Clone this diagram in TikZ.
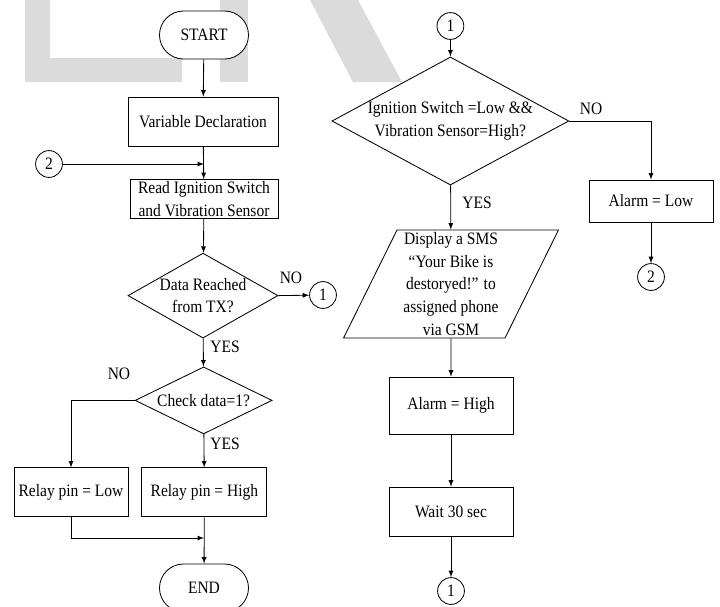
\documentclass[tikz,border=0pt]{standalone}
\usepackage{fontspec}
\setmainfont{Liberation Serif}[FakeStretch=0.89]
\usepackage{tikz}
\usetikzlibrary{shapes}
\usetikzlibrary{arrows}
\tikzstyle{terminal}=[
        rectangle,
        draw,
        rounded corners=0.6cm,
        fill=white,
        minimum width=2.225cm,
        minimum height=1.2cm,
        inner sep=0pt
]
\tikzstyle{process}=[rectangle,draw,fill=white,align=center,inner sep=0pt]
\tikzstyle{decision}=[diamond,draw,fill=white,align=center,inner sep=0pt]
\tikzstyle{inout}=[
        draw,
        trapezium,
        trapezium left angle=65.6,
        trapezium right angle=114.4,
        trapezium stretches=true,
        align=center,
        inner sep=0pt
]
\tikzstyle{connect}=[circle,draw,fill=white,minimum size=0.67cm,inner sep=0pt]
\tikzstyle{tag}=[inner sep=0pt]
\tikzstyle{flow}=[->,>=latex]

\begin{document}
\begin{tikzpicture}[line width=0.6pt,font=\fontsize{12.4}{16.3}\selectfont]
\useasboundingbox (0,0) rectangle (18,-15.175);
\clip (0,0) rectangle (18,-15.175);
%watermark
\fill[black!14] (0.625,0) -- (1.25,0) -- (1.25,-1.45) -- (4.55,-1.45) -- (4.55,-2.05) -- (0.625,-2.05) -- cycle;
\fill[black!14] (5.5,0) rectangle (6.2,-2.05);
\fill[black!14] (7.75,0) -- (8.95,0) -- (10.05,-2.05) -- (8.825,-2.05) -- cycle;

\node[terminal] (start) at (5.1,-0.875) {START};
\node[process,minimum width=3.75cm,minimum height=1.225cm] (decl) at (5.075,-3.04) {Variable Declaration};
\node[connect] (c2a) at (1.225,-4.1) {2};
\node[process,minimum width=3.7cm,minimum height=0.975cm] (read) at (5.1,-4.975) {Read Ignition Switch\\and Vibration Sensor};
\node[decision,minimum width=3.75cm,minimum height=2.125cm,aspect=1.76] (test) at (5.075,-7.39) {Data Reached\\from TX?};
\node[connect] (c1a) at (8.075,-7.375) {1};
\node[decision,minimum width=3.425cm,minimum height=1.675cm,aspect=2.04] (test2) at (5.09,-10.01) {Check data=1?};
\node[process,minimum width=2.85cm,minimum height=1.225cm] (low) at (1.775,-12.31) {Relay pin = Low};
\node[process,minimum width=3.125cm,minimum height=1.225cm] (high) at (5.11,-12.31) {Relay pin = High};
\coordinate (join) at (5.1,-13.45);
\node[terminal] (end) at (5.1,-14.7) {END};

\node[connect] (c1b) at (11.26,-0.65) {1};
\node[decision,minimum width=5.725cm,minimum height=3.1cm,aspect=1.85] (test3) at (11.26,-3.025) {Ignition Switch =Low \&\&\\Vibration Sensor=High?};
\node[process,minimum width=3.1cm,minimum height=1.05cm] (alow) at (16.275,-5.025) {Alarm = Low};
\node[connect] (c2b) at (16.275,-6.925) {2};
\node[inout,minimum width=5.375cm,minimum height=2.7cm] (sms) at (11.275,-7.1) {Display a SMS\\``Your Bike is\\destoryed!'' to\\assigned phone\\via GSM};
\node[process,minimum width=3.1cm,minimum height=1.425cm] (ahigh) at (11.275,-10.14) {Alarm = High};
\node[process,minimum width=3.1cm,minimum height=1.225cm] (wait) at (11.275,-12.79) {Wait 30 sec};
\node[connect] (c1c) at (11.275,-14.775) {1};

\node[tag] (no1) at (7.275,-6.95) {NO};
\node[tag] (yes1) at (5.625,-8.675) {YES};
\node[tag] (no2) at (2.975,-9.35) {NO};
\node[tag] (yes2) at (5.625,-11.1) {YES};
\node[tag] (no3) at (14.775,-2.725) {NO};
\node[tag] (yes3) at (11.925,-5.075) {YES};

%connectors
\draw[flow] (start) -- (decl);
\draw[flow] (decl) -- (read);
\draw[flow] (c2a) -- (c2a -| read.north);
\draw[flow] (read) -- (test);
\draw[flow] (test.east) -- (c1a);
\draw[flow] (test) -- (test2);
\draw[flow] (test2.west) -| (low);
\draw[flow] (test2) -- (high);
\draw[flow] (low) |- (join);
\draw[flow] (high) -- (end);

\draw[flow] (c1b) -- (test3);
\draw[flow] (test3.east) -| (alow);
\draw[flow] (alow) -- (c2b);
\draw[flow] (test3) -- (sms);
\draw[flow] (sms) -- (ahigh);
\draw[flow] (ahigh) -- (wait);
\draw[flow] (wait) -- (c1c);
\end{tikzpicture}
\end{document}
